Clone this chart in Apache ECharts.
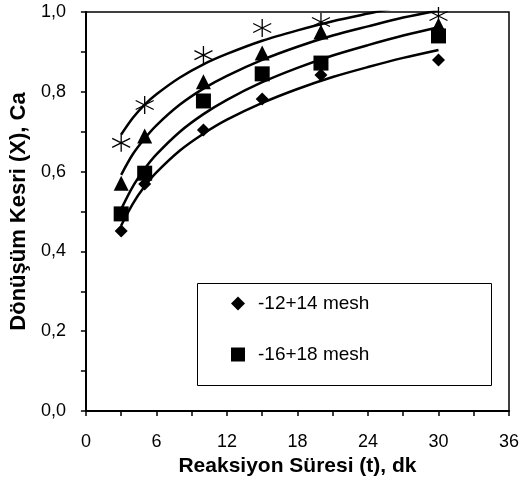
<!DOCTYPE html>
<html>
<head>
<meta charset="utf-8">
<script src="https://cdn.jsdelivr.net/npm/echarts@6/dist/echarts.min.js"></script>
<style>html,body{margin:0;padding:0;background:#fff}#c{width:527px;height:490px}</style>
</head>
<body>
<div id="c"></div>
<script>
// Measured points
const times = [3, 5, 10, 15, 20, 30];
const diamondVals = [0.451, 0.569, 0.704, 0.782, 0.842, 0.880];   // -12+14 mesh
const squareVals  = [0.494, 0.596, 0.777, 0.845, 0.872, 0.940];   // -16+18 mesh
const triangleVals = [0.571, 0.689, 0.825, 0.897, 0.950, 0.967];
const starVals     = [0.672, 0.767, 0.892, 0.960, 0.975, 0.990];

// Trend curves
const curveTimes = [3, 4, 5, 6, 8, 10, 12, 15, 18, 21, 24, 27, 30];
const diamondCurve  = [0.465, 0.520, 0.563, 0.598, 0.653, 0.695, 0.730, 0.772, 0.807, 0.837, 0.862, 0.885, 0.905];
const squareCurve   = [0.506, 0.563, 0.607, 0.643, 0.700, 0.744, 0.780, 0.824, 0.860, 0.891, 0.917, 0.941, 0.962];
const triangleCurve = [0.592, 0.644, 0.683, 0.716, 0.768, 0.808, 0.840, 0.880, 0.913, 0.941, 0.964, 0.986, 1.004];
const starCurve     = [0.693, 0.735, 0.768, 0.794, 0.836, 0.869, 0.895, 0.928, 0.954, 0.977, 0.996, 1.014, 1.029];

const seriesNames = ['-12+14 mesh', '-16+18 mesh', '-14+16 mesh', '-18+20 mesh'];
const xTicks = [0, 6, 12, 18, 24, 30, 36];
const yTicks = [0, 0.2, 0.4, 0.6, 0.8, 1.0];

const pair = (xs, ys) => xs.map((x, i) => [x, ys[i]]);
const FONT = '"Liberation Sans", Arial, sans-serif';
const starPath = 'path://M10,0L10,20M1.34,5L18.66,15M1.34,15L18.66,5';

function curve(data) {
  return {
    type: 'line', data: pair(curveTimes, data), smooth: 0.3, showSymbol: false,
    lineStyle: { color: '#000', width: 2.5 }, silent: true, clip: true, z: 2
  };
}
function scatter(name, data, symbol, size, extra) {
  return Object.assign({
    name: name, type: 'scatter', data: pair(times, data), symbol: symbol, symbolSize: size,
    itemStyle: { color: '#000', opacity: 1 }, z: 3, clip: false
  }, extra || {});
}

const chart = echarts.init(document.getElementById('c'), null, { renderer: 'canvas' });
chart.setOption({
  animation: false,
  backgroundColor: '#fff',
  textStyle: { fontFamily: FONT },
  grid: { left: 84, top: 12, right: 18, bottom: 79, show: true, borderColor: '#000', borderWidth: 1.5, backgroundColor: 'transparent' },
  xAxis: {
    type: 'value', min: xTicks[0], max: xTicks[xTicks.length - 1], interval: 6,
    name: 'Reaksiyon Süresi (t), dk', nameLocation: 'middle', nameGap: 45,
    nameTextStyle: { fontFamily: FONT, fontSize: 21, fontWeight: 'bold', color: '#000' },
    axisLine: { lineStyle: { color: '#000', width: 2 } },
    axisTick: { show: true, inside: false, length: 5, lineStyle: { color: '#000', width: 1.5 } },
    minorTick: { show: true, splitNumber: 2, length: 5, lineStyle: { color: '#000', width: 1.5 } },
    axisLabel: { fontFamily: FONT, fontSize: 18, color: '#000', margin: 22 },
    splitLine: { show: false }
  },
  yAxis: {
    type: 'value', min: yTicks[0], max: yTicks[yTicks.length - 1], interval: 0.2,
    name: 'Dönüşüm Kesri (X), Ca', nameLocation: 'middle', nameGap: 55, nameRotate: 90,
    nameTextStyle: { fontFamily: FONT, fontSize: 22, fontWeight: 'bold', color: '#000' },
    axisLine: { lineStyle: { color: '#000', width: 2 } },
    axisTick: { show: true, inside: false, length: 5, lineStyle: { color: '#000', width: 1.5 } },
    minorTick: { show: true, splitNumber: 2, length: 5, lineStyle: { color: '#000', width: 1.5 } },
    axisLabel: { fontFamily: FONT, fontSize: 18, color: '#000', margin: 20,
      formatter: v => v.toFixed(1).replace('.', ',') },
    splitLine: { show: false }
  },
  legend: {
    data: [
      { name: seriesNames[0], icon: 'diamond' },
      { name: seriesNames[1], icon: 'rect' }
    ],
    orient: 'vertical', left: 226, top: 289, itemGap: 32, itemWidth: 14, itemHeight: 14,
    itemStyle: { opacity: 1 },
    textStyle: { fontFamily: FONT, fontSize: 19, color: '#000', padding: [0, 0, 0, 8] },
    selectedMode: false
  },
  graphic: [{
    type: 'rect', left: 197, top: 283, shape: { width: 294, height: 102 },
    style: { fill: 'transparent', stroke: '#000', lineWidth: 1 }, z: 10, silent: true
  }],
  series: [
    curve(diamondCurve), curve(squareCurve), curve(triangleCurve), curve(starCurve),
    scatter(seriesNames[0], diamondVals, 'diamond', [13, 13]),
    scatter(seriesNames[1], squareVals, 'rect', [15, 15]),
    scatter(seriesNames[2], triangleVals, 'triangle', [15, 15]),
    scatter(seriesNames[3], starVals, starPath, [18, 18], {
      itemStyle: { color: 'transparent', borderColor: '#000', borderWidth: 1.3, opacity: 1 }
    })
  ]
});
</script>
</body>
</html>
